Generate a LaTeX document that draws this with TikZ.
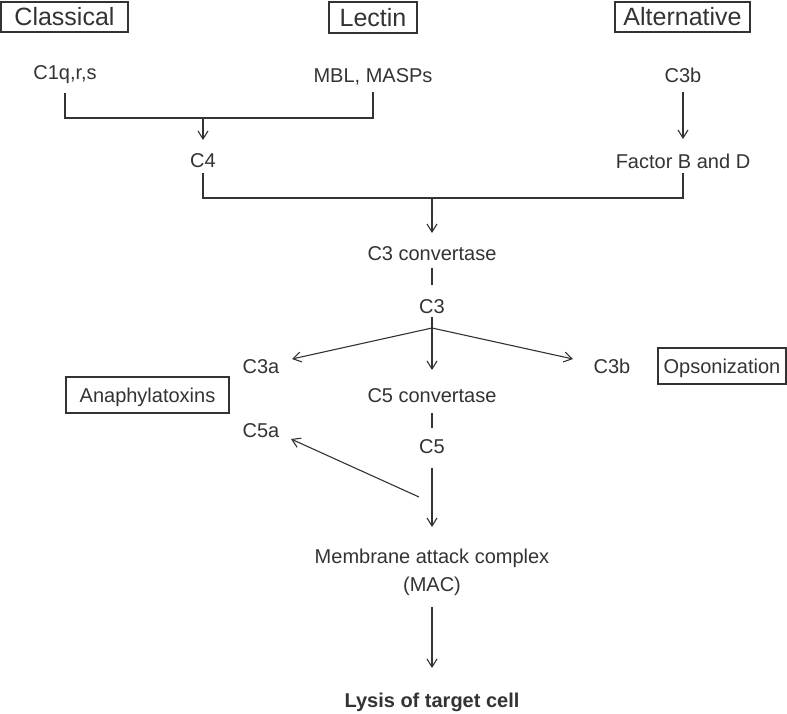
\documentclass[tikz,border=0pt]{standalone}
\usepackage{fontspec}
\setmainfont{Liberation Sans}
\usetikzlibrary{arrows.meta}
\definecolor{ink}{HTML}{333333}
\begin{document}
\begin{tikzpicture}[x=1pt,y=-1pt,
  lbl/.style={anchor=base,inner sep=0pt,text=ink,font=\fontsize{20}{28}\selectfont},
  bigbox/.style={draw=ink,line width=1.4pt,inner sep=0pt,text=ink,font=\fontsize{25}{30}\selectfont,text height=18pt,text depth=0pt},
  smallbox/.style={draw=ink,line width=1.4pt,inner sep=0pt,text=ink,font=\fontsize{20}{24}\selectfont,text height=14.3pt,text depth=0pt},
  ln/.style={draw=ink,line width=1.1pt},
  arr/.style={ln,-{Straight Barb[length=8pt,width=10pt,line width=1.1pt]}}]
\useasboundingbox (0,0) rectangle (787,714);
\fill[white] (0,0) rectangle (787,714);
% boxes
\node[bigbox,minimum width=127pt,minimum height=30pt] (classical) at (64.5,17) {Classical};
\node[bigbox,minimum width=88pt,minimum height=31pt] (lectin) at (373,17.5) {Lectin};
\node[bigbox,minimum width=135pt,minimum height=30pt] (alternative) at (682.5,17) {Alternative};
\node[smallbox,minimum width=163pt,minimum height=36pt] (anaph) at (147.5,395) {Anaphylatoxins};
\node[smallbox,minimum width=128pt,minimum height=36pt] (opson) at (722,366) {Opsonization};
% labels
\node[lbl] (c1q) at (65,80) {C1q,r,s};
\node[lbl] (mbl) at (373,83) {MBL, MASPs};
\node[lbl] (c3bt) at (683,83) {C3b};
\node[lbl] (c4) at (203,168) {C4};
\node[lbl] (fbd) at (683,169) {Factor B and D};
\node[lbl] (c3conv) at (432,260) {C3 convertase};
\node[lbl] (c3) at (432,313) {C3};
\node[lbl] (c3a) at (261,373) {C3a};
\node[lbl] (c3b) at (612,373) {C3b};
\node[lbl] (c5conv) at (432,402) {C5 convertase};
\node[lbl] (c5) at (432,453) {C5};
\node[lbl] (c5a) at (261,437) {C5a};
\node[lbl] (mac) at (432,563) {\begin{tabular}[t]{@{}c@{}}Membrane attack complex\\(MAC)\end{tabular}};
\node[lbl,font=\fontsize{20}{28}\selectfont\bfseries] (lysis) at (432,707) {Lysis of target cell};
% junctions
\coordinate (j1) at (203,118);
\coordinate (j2) at (432,198);
\coordinate (j3) at (432,328);
\coordinate (j4) at (419,497);
% connectors
\draw[ln] ([yshift=-13pt]c1q.base) -- (c1q.base |- j1) -- (mbl.base |- j1) -- ([yshift=-9pt]mbl.base);
\draw[arr] (j1) -- ([yshift=28pt]c4.base);
\draw[arr] ([yshift=-9pt]c3bt.base) -- ([yshift=30pt]fbd.base);
\draw[ln] ([yshift=-5pt]c4.base) -- (c4.base |- j2) -- (fbd.base |- j2) -- ([yshift=-4pt]fbd.base);
\draw[arr] (j2) -- ([yshift=27pt]c3conv.base);
\draw[ln] ([yshift=-8pt]c3conv.base) -- ([yshift=28pt]c3.base);
\draw[arr] ([yshift=-4pt]c3.base) -- ([yshift=32pt]c5conv.base);
\draw[arr] (j3) -- ([shift={(31pt,14pt)}]c3a.base);
\draw[arr] (j3) -- ([shift={(-39pt,14pt)}]c3b.base);
\draw[ln] ([yshift=-11pt]c5conv.base) -- ([yshift=25pt]c5.base);
\draw[arr] ([yshift=-15pt]c5.base) -- ([yshift=36pt]mac.base);
\draw[arr] (j4) -- ([shift={(30pt,-2pt)}]c5a.base);
\draw[arr] ([yshift=-44pt]mac.base) -- ([yshift=39pt]lysis.base);
\end{tikzpicture}
\end{document}
